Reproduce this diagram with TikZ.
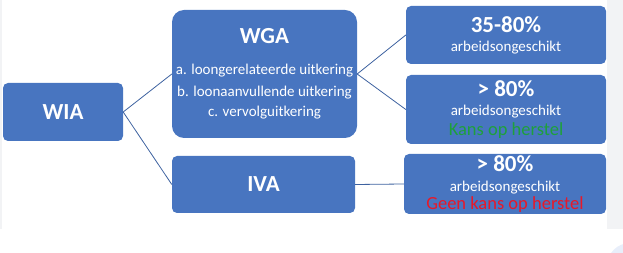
\documentclass[tikz,border=0pt]{standalone}
\usepackage{fontspec}
\setmainfont{Carlito}
\definecolor{wiablue}{RGB}{72,117,192}
\definecolor{wialine}{RGB}{62,98,160}
\definecolor{wiagreen}{RGB}{30,160,60}
\definecolor{wiared}{RGB}{232,24,40}
\definecolor{wiagray}{RGB}{242,243,245}
\definecolor{wiapale}{RGB}{232,238,250}
\newcommand{\headfont}{\fontsize{23}{28}\selectfont\bfseries}
\newcommand{\notefont}{\fontsize{18.5}{22}\selectfont}
\usetikzlibrary{positioning}

\begin{document}
\begin{tikzpicture}[x=1pt, y=-1pt,
    box/.style={fill=wiablue, rounded corners=5pt, inner sep=0pt,
                text=white, align=center,
                font=\fontsize{15}{19}\selectfont},
    link/.style={draw=wialine, line width=0.8pt}
  ]
    \useasboundingbox (0,0) rectangle (623,253);
    % screenshot edges
    \fill[wiagray] (607,0) rectangle (623,229);
    \fill[wiagray] (0,0) rectangle (2,229);
    \begin{scope}
      \clip (0,0) rectangle (623,253);
      \fill[wiapale] (630,266) circle[radius=23];
    \end{scope}

    \node[box, minimum width=120pt, minimum height=58pt] (wia) at (63,112)
      {\headfont WIA};
    \node[box, rounded corners=12pt, minimum width=185pt, minimum height=128pt]
      (wga) at (264.5,74)
      {{\headfont WGA}\\[12pt]
       a. loongerelateerde uitkering\\[3pt]
       b. loonaanvullende uitkering\\[1pt]
       c. vervolguitkering};
    \node[box, minimum width=183pt, minimum height=57pt] (iva) at (263.5,184.5)
      {\headfont IVA};

    \node[box, minimum width=200pt, minimum height=58pt] (deel) at (506,35)
      {{\headfont 35-80\%}\\ arbeidsongeschikt};
    \node[box, minimum width=200pt, minimum height=69pt] (volh) at (506,109.5)
      {{\headfont > 80\%}\\ arbeidsongeschikt\\[1pt]
       {\notefont\textcolor{wiagreen}{Kans op herstel}}};
    \node[box, minimum width=202pt, minimum height=60pt] (volg) at (505,184)
      {{\headfont > 80\%}\\[1pt] arbeidsongeschikt\\[-1pt]
       {\notefont\textcolor{wiared}{Geen kans op herstel}}};

    \foreach \a/\b in {wia/wga, wia/iva, wga/deel, wga/volh, iva/volg}
      \draw[link] (\a.east) -- (\b.west);
  \end{tikzpicture}
\end{document}
